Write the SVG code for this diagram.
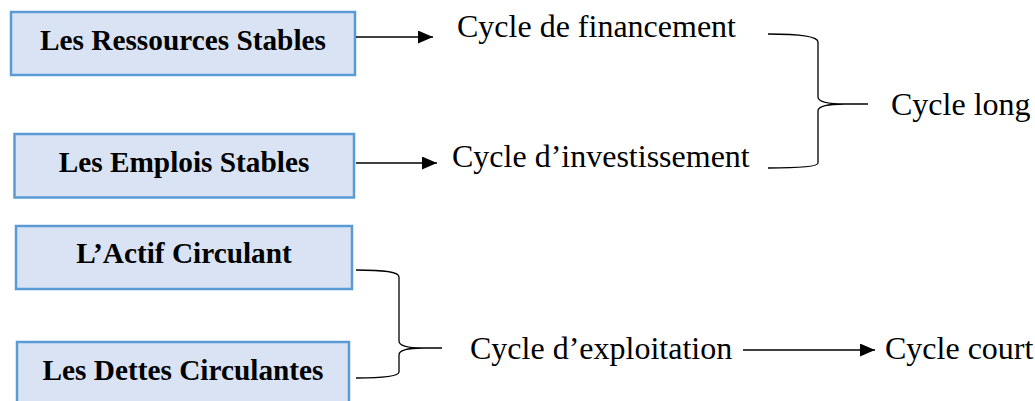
<svg xmlns="http://www.w3.org/2000/svg" width="1035" height="401" viewBox="0 0 1035 401">
  <style>
    .box { fill: #DAE3F3; stroke: #5B9BD5; stroke-width: 2.5; }
    .bt { font-family: "Liberation Serif", "Times New Roman", serif; font-weight: bold; font-size: 29.3px; fill: #000; text-anchor: middle; }
    .t { font-family: "Liberation Serif", "Times New Roman", serif; font-size: 32px; fill: #000; }
    .arr { stroke: #000; stroke-width: 1.3; fill: none; marker-end: url(#ah); }
    .br { stroke: #000; stroke-width: 1.3; fill: none; }
  </style>
  <defs>
    <marker id="ah" markerWidth="15" markerHeight="13" refX="15" refY="6.5" orient="auto" markerUnits="userSpaceOnUse">
      <path d="M0,0 L15,6.5 L0,13 Z" fill="#000"/>
    </marker>
  </defs>
  <rect width="1035" height="401" fill="#fff"/>
  <g id="node-ressources">
    <rect class="box" x="11" y="12" width="344" height="63"/>
    <text class="bt" x="183" y="50">Les Ressources Stables</text>
  </g>
  <g id="node-emplois">
    <rect class="box" x="14.5" y="134" width="339.5" height="63.5"/>
    <text class="bt" x="184" y="172">Les Emplois Stables</text>
  </g>
  <g id="node-actif">
    <rect class="box" x="16" y="226" width="336" height="63"/>
    <text class="bt" x="184" y="263">L’Actif Circulant</text>
  </g>
  <g id="node-dettes">
    <rect class="box" x="17" y="342" width="332" height="70"/>
    <text class="bt" x="183" y="380">Les Dettes Circulantes</text>
  </g>
  <g id="node-financement">
    <text class="t" x="457" y="37">Cycle de financement</text>
  </g>
  <g id="node-investissement">
    <text class="t" x="452" y="167">Cycle d’investissement</text>
  </g>
  <g id="node-long">
    <text class="t" x="891" y="115">Cycle long</text>
  </g>
  <g id="node-exploitation">
    <text class="t" x="470" y="359">Cycle d’exploitation</text>
  </g>
  <g id="node-court">
    <text class="t" x="885" y="359">Cycle court</text>
  </g>
  <g id="connectors">
    <line class="arr" x1="356" y1="37" x2="433" y2="37"/>
    <line class="arr" x1="356" y1="163" x2="437" y2="163"/>
    <line class="arr" x1="743" y1="350" x2="875" y2="350"/>
    <path class="br" d="M768,34 C803,34 818,37 818,42 L818,97 C818,102 828,104 845,104 L868,104 M845,104 C828,104 818,106 818,111 L818,163 C818,166 803,168 768,168"/>
    <path class="br" d="M356,270 C386,270 399,272 399,277 L399,341 C399,346 408,348 423,348 L442,348 M423,348 C408,348 399,350 399,355 L399,372 C399,376 386,378 356,378"/>
  </g>
</svg>
